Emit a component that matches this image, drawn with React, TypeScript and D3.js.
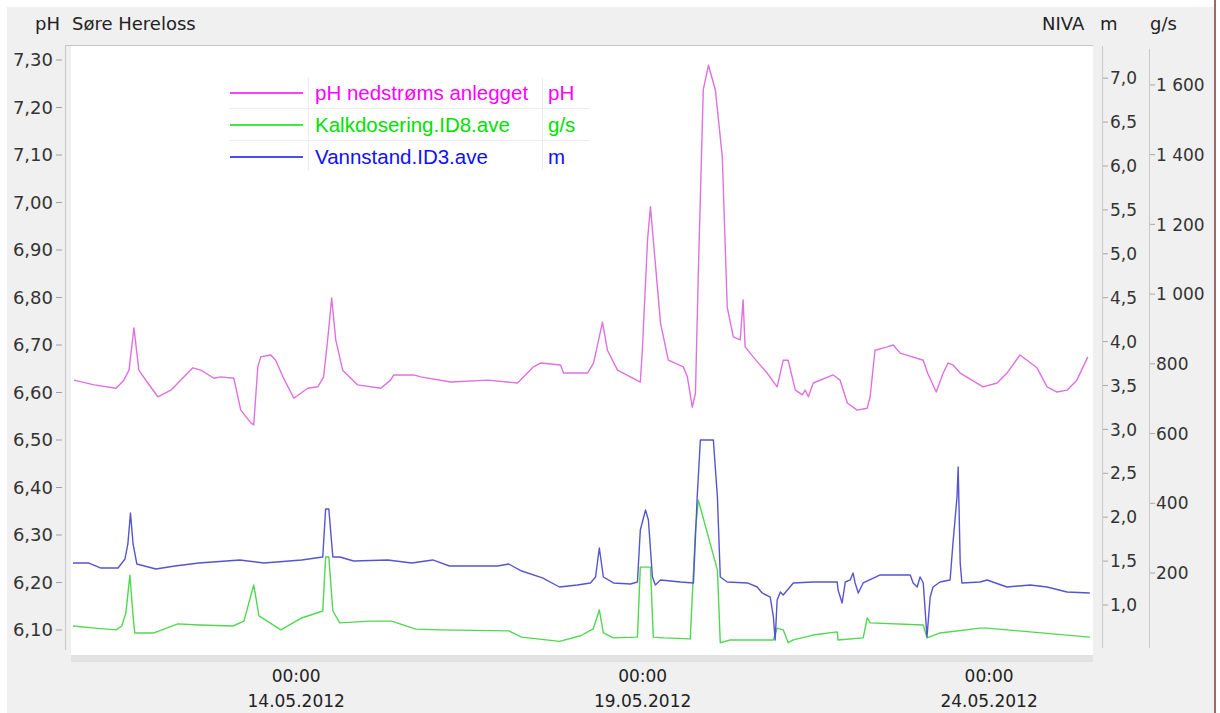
import React from 'react';
import { scaleLinear, scaleTime, line, timeFormat } from 'd3';

const START = new Date(2012, 4, 10, 18, 0);
const END = new Date(2012, 4, 25, 12, 0);

// [hours after START, value]
const phSeries: [number, number][] = [
  [1.0, 6.626], [8.0, 6.616], [15.6, 6.609], [18.3, 6.626], [20.1, 6.647], [21.8, 6.736], [23.5, 6.647],
  [26.6, 6.62], [30.1, 6.591], [34.6, 6.605], [42.2, 6.652], [45.0, 6.647], [49.5, 6.63], [51.9, 6.633],
  [56.4, 6.63], [58.8, 6.563], [62.3, 6.536], [63.3, 6.532], [64.7, 6.654], [65.7, 6.675], [69.2, 6.679],
  [70.9, 6.668], [73.4, 6.633], [77.2, 6.588], [82.0, 6.609], [85.5, 6.612], [87.5, 6.633], [88.9, 6.711],
  [90.3, 6.799], [91.7, 6.711], [94.1, 6.647], [99.3, 6.616], [107.3, 6.609], [110.7, 6.626], [111.8, 6.637],
  [118.7, 6.637], [121.1, 6.633], [131.5, 6.622], [144.3, 6.626], [154.7, 6.62], [160.2, 6.654], [162.6, 6.662],
  [169.6, 6.658], [170.6, 6.641], [178.9, 6.641], [181.0, 6.662], [184.1, 6.748], [185.8, 6.689], [189.3, 6.647],
  [197.2, 6.622], [197.9, 6.689], [199.7, 6.921], [200.7, 6.991], [201.7, 6.921], [204.2, 6.746], [206.9, 6.668],
  [212.1, 6.654], [213.5, 6.633], [215.2, 6.569], [216.3, 6.599], [217.3, 6.852], [219.0, 7.237], [220.8, 7.289],
  [223.2, 7.237], [225.6, 7.096], [227.3, 6.78], [229.4, 6.717], [231.8, 6.711], [232.8, 6.795], [233.5, 6.696],
  [236.3, 6.675], [241.1, 6.641], [244.6, 6.612], [246.7, 6.668], [248.4, 6.668], [250.9, 6.605], [253.3, 6.595],
  [254.3, 6.605], [255.4, 6.591], [257.1, 6.62], [264.0, 6.637], [266.4, 6.626], [268.9, 6.578], [272.3, 6.563],
  [275.8, 6.567], [276.8, 6.591], [278.5, 6.689], [282.7, 6.696], [284.8, 6.7], [287.2, 6.683], [295.2, 6.668],
  [296.7, 6.641], [299.7, 6.601], [302.1, 6.641], [303.8, 6.662], [305.5, 6.658], [308.0, 6.641], [315.9, 6.612],
  [320.8, 6.62], [324.2, 6.641], [328.7, 6.679], [334.6, 6.652], [338.1, 6.612], [341.5, 6.601], [345.0, 6.605],
  [348.4, 6.626], [352.2, 6.675],
];

const doseSeries: [number, number][] = [
  [0.7, 48], [8.3, 42], [15.6, 37], [17.6, 48], [19.0, 85], [20.4, 194], [21.5, 77], [22.1, 28], [28.7, 28],
  [37.0, 54], [44.3, 51], [56.1, 48], [59.9, 62], [63.3, 166], [65.1, 77], [72.7, 37], [79.9, 71], [87.2, 91],
  [88.2, 246], [89.3, 246], [90.7, 91], [93.1, 57], [103.8, 62], [111.1, 62], [119.4, 39], [127.7, 37],
  [151.6, 34], [156.1, 16], [169.2, 4], [176.5, 20], [180.9, 40], [183.0, 94], [184.4, 28], [187.9, 14],
  [196.2, 16], [197.2, 217], [200.7, 217], [201.7, 16], [205.2, 14], [214.5, 11], [216.3, 323], [217.3, 409],
  [223.9, 209], [224.9, 0], [228.4, 8], [243.3, 8], [244.6, 42], [246.7, 37], [248.4, 0], [250.2, 8],
  [257.1, 22], [265.4, 31], [265.7, 8], [274.4, 14], [275.8, 71], [276.8, 57], [295.2, 51], [296.5, 14],
  [301.0, 28], [314.9, 42], [317.3, 42], [332.2, 31], [352.9, 16],
];

const levelSeries: [number, number][] = [
  [0.7, 1.478], [6.2, 1.478], [10.4, 1.421], [16.3, 1.421], [18.7, 1.524], [19.7, 1.695], [20.6, 2.048],
  [21.5, 1.695], [22.8, 1.467], [29.4, 1.41], [36.0, 1.444], [44.3, 1.478], [58.5, 1.513], [66.8, 1.478],
  [79.9, 1.513], [87.2, 1.547], [88.2, 2.093], [89.3, 2.093], [90.7, 1.547], [93.1, 1.547], [97.9, 1.501],
  [109.7, 1.513], [118.0, 1.478], [125.3, 1.513], [131.1, 1.444], [147.8, 1.444], [151.6, 1.467], [156.1, 1.387],
  [163.3, 1.308], [169.2, 1.205], [175.4, 1.228], [179.9, 1.251], [181.7, 1.319], [183.0, 1.649], [184.4, 1.319],
  [187.9, 1.251], [193.8, 1.239], [196.2, 1.262], [197.2, 1.854], [199.0, 2.082], [200.0, 1.968], [201.4, 1.319],
  [202.4, 1.228], [204.2, 1.285], [211.1, 1.262], [215.6, 1.251], [216.9, 2.23], [218.0, 2.879], [222.5, 2.879],
  [223.9, 2.23], [224.9, 1.319], [227.3, 1.262], [234.3, 1.251], [237.7, 1.205], [239.4, 1.137], [242.2, 1.091],
  [243.3, 0.863], [243.9, 0.601], [244.6, 1.057], [245.7, 1.148], [246.7, 1.114], [250.2, 1.251], [257.1, 1.262],
  [265.4, 1.262], [265.7, 1.171], [267.1, 1.023], [268.2, 1.262], [269.9, 1.285], [270.9, 1.364], [271.6, 1.251],
  [272.7, 1.137], [274.4, 1.251], [280.3, 1.342], [290.7, 1.342], [291.7, 1.251], [293.1, 1.205], [294.1, 1.319],
  [295.2, 1.251], [296.5, 0.636], [297.6, 1.091], [298.6, 1.205], [301.0, 1.262], [304.5, 1.285], [305.5, 1.706],
  [306.9, 2.23], [307.3, 2.572], [308.0, 1.478], [308.6, 1.251], [314.9, 1.262], [317.3, 1.285], [324.2, 1.205],
  [332.2, 1.228], [338.1, 1.205], [345.0, 1.148], [352.9, 1.137],
];

const phTicks = [6.1, 6.2, 6.3, 6.4, 6.5, 6.6, 6.7, 6.8, 6.9, 7.0, 7.1, 7.2, 7.3];
const levelTicks = [1.0, 1.5, 2.0, 2.5, 3.0, 3.5, 4.0, 4.5, 5.0, 5.5, 6.0, 6.5, 7.0];
const doseTicks = [200, 400, 600, 800, 1000, 1200, 1400, 1600];
const dateTicks = [new Date(2012, 4, 14), new Date(2012, 4, 19), new Date(2012, 4, 24)];

const legendRows = [
  { name: 'pH nedstrøms anlegget', unit: 'pH', color: '#ff00ff' },
  { name: 'Kalkdosering.ID8.ave', unit: 'g/s', color: '#00e000' },
  { name: 'Vannstand.ID3.ave', unit: 'm', color: '#1010ff' },
];

const FONT = '"DejaVu Sans", Tahoma, sans-serif';
const LEGEND_FONT = '"Liberation Sans", Arial, sans-serif';

const toDate = (h: number) => new Date(START.getTime() + h * 3600 * 1000);
const commaFmt = (v: number, digits: number) => v.toFixed(digits).replace('.', ',');
const spaceFmt = (v: number) => (v >= 1000 ? `${Math.floor(v / 1000)} ${String(v % 1000).padStart(3, '0')}` : String(v));

export default function App() {
  const width = 1220;
  const height = 713;
  const plot = { left: 71, right: 1093, top: 46, bottom: 655 };

  const x = scaleTime().domain([START, END]).range([plot.left, plot.right]);
  const yPh = scaleLinear().domain([6.0474, 7.3295]).range([plot.bottom, plot.top]);
  const yLevel = scaleLinear().domain([0.4305, 7.3667]).range([plot.bottom, plot.top]);
  const yDose = scaleLinear().domain([-35.2, 1711.7]).range([plot.bottom, plot.top]);

  const mk = (y: (v: number) => number) =>
    line<[number, number]>()
      .x((d) => x(toDate(d[0])))
      .y((d) => y(d[1]));

  const fmtTime = timeFormat('%H:%M');
  const fmtDate = timeFormat('%d.%m.%Y');

  const levelAxisX = 1102;
  const doseAxisX = 1149;

  return (
    <div style={{ width, height }}>
      <style>{'body{margin:0;background:#fff}'}</style>
      <svg width={width} height={height} style={{ display: 'block' }}>
        <defs>
          <clipPath id="plotClip">
            <rect x={plot.left} y={plot.top} width={plot.right - plot.left} height={plot.bottom - plot.top} />
          </clipPath>
        </defs>
        <rect x={0} y={0} width={width} height={height} fill="#ffffff" />
        <rect x={7} y={7} width={1208} height={height - 7} fill="#f0f0f0" />
        <line x1={1215} x2={1215} y1={0} y2={height} stroke="#9a6a6a" strokeWidth={2} />

        {/* header */}
        <g fontFamily={FONT} fontSize={18} fill="#222">
          <text x={35} y={30}>pH</text>
          <text x={72} y={30}>Søre Hereloss</text>
          <text x={1042} y={30}>NIVA</text>
          <text x={1100} y={30}>m</text>
          <text x={1150} y={30}>g/s</text>
        </g>

        {/* plot frame */}
        <rect x={plot.left} y={plot.top} width={plot.right - plot.left} height={plot.bottom - plot.top} fill="#ffffff" />
        <rect x={plot.left} y={plot.bottom} width={plot.right - plot.left} height={7} fill="#e2e2e2" />
        <line x1={65} x2={plot.right} y1={plot.top - 0.5} y2={plot.top - 0.5} stroke="#c4c4c4" />
        <line x1={65.5} x2={65.5} y1={plot.top} y2={650} stroke="#c8c8c8" />
        <line x1={levelAxisX + 0.5} x2={levelAxisX + 0.5} y1={plot.top} y2={648} stroke="#c8c8c8" />
        <line x1={doseAxisX + 0.5} x2={doseAxisX + 0.5} y1={plot.top + 3} y2={648} stroke="#c8c8c8" />

        {/* left pH axis */}
        <g fontFamily={FONT} fontSize={18} fill="#333">
          {phTicks.map((t) => (
            <g key={t}>
              <line x1={56} x2={62} y1={yPh(t)} y2={yPh(t)} stroke="#a0a0a0" />
              <text x={53} y={yPh(t)} dy="0.36em" textAnchor="end">{commaFmt(t, 2)}</text>
            </g>
          ))}
        </g>

        {/* right m axis */}
        <g fontFamily={FONT} fontSize={17} fill="#333">
          {levelTicks.map((t) => (
            <g key={t}>
              <line x1={levelAxisX + 1} x2={levelAxisX + 6} y1={yLevel(t)} y2={yLevel(t)} stroke="#a8a8a8" />
              <text x={1110} y={yLevel(t)} dy="0.36em">{commaFmt(t, 1)}</text>
            </g>
          ))}
        </g>

        {/* right g/s axis */}
        <g fontFamily={FONT} fontSize={17} fill="#333">
          {doseTicks.map((t) => (
            <g key={t}>
              <line x1={doseAxisX + 1} x2={doseAxisX + 6} y1={yDose(t)} y2={yDose(t)} stroke="#a8a8a8" />
              <text x={1156} y={yDose(t)} dy="0.36em">{spaceFmt(t)}</text>
            </g>
          ))}
        </g>

        {/* time axis */}
        <g fontFamily={FONT} fontSize={17} fill="#222" textAnchor="middle">
          {dateTicks.map((d) => (
            <g key={d.getTime()}>
              <text x={x(d)} y={682}>{fmtTime(d)}</text>
              <text x={x(d)} y={707}>{fmtDate(d)}</text>
            </g>
          ))}
        </g>

        {/* series */}
        <g clipPath="url(#plotClip)" fill="none" strokeWidth={1.4} strokeLinejoin="round">
          <path d={mk(yPh)(phSeries) || ''} stroke="#e070e0" />
          <path d={mk(yDose)(doseSeries) || ''} stroke="#50d850" />
          <path d={mk(yLevel)(levelSeries) || ''} stroke="#5555d0" />
        </g>

        {/* legend */}
        <g>
          <line x1={230} x2={590} y1={108.5} y2={108.5} stroke="#ececec" />
          <line x1={230} x2={590} y1={140.5} y2={140.5} stroke="#ececec" />
          <line x1={308.5} x2={308.5} y1={78} y2={170} stroke="#ececec" />
          <line x1={542.5} x2={542.5} y1={78} y2={170} stroke="#ececec" />
          {legendRows.map((r, i) => {
            const cy = 93 + i * 32;
            return (
              <g key={r.name} fontFamily={LEGEND_FONT} fontSize={20.5} fill={r.color}>
                <line x1={230} x2={303} y1={cy} y2={cy} stroke={r.color} strokeWidth={1.5} />
                <text x={315} y={cy + 7}>{r.name}</text>
                <text x={548} y={cy + 7}>{r.unit}</text>
              </g>
            );
          })}
        </g>
      </svg>
    </div>
  );
}
